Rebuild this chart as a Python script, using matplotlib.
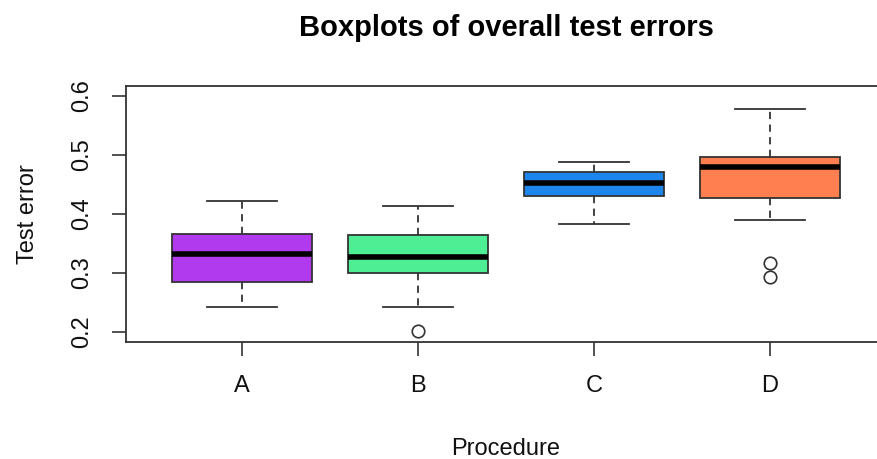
import matplotlib
matplotlib.use("Agg")
import matplotlib.pyplot as plt

# ── data ──────────────────────────────────────────────────────────────────────
procedures = ["A", "B", "C", "D"]
whisker_low = [0.242, 0.243, 0.383, 0.390]
q1 = [0.284, 0.300, 0.430, 0.427]
medians = [0.332, 0.327, 0.452, 0.480]
q3 = [0.366, 0.365, 0.472, 0.496]
whisker_high = [0.422, 0.414, 0.489, 0.578]
outliers = [[], [0.202], [], [0.317, 0.293]]
colors = ["#B23AEE", "#4EEE94", "#1C86EE", "#FF7F50"]

plt.rcParams["font.family"] = ["Liberation Sans", "DejaVu Sans"]

fig = plt.figure(figsize=(8.77, 4.59), dpi=100)
ax = fig.add_axes([126 / 877, 1 - 342 / 459, 760 / 877, 256 / 459])

stats = []
for i, name in enumerate(procedures):
    stats.append({
        "label": name,
        "whislo": whisker_low[i],
        "q1": q1[i],
        "med": medians[i],
        "q3": q3[i],
        "whishi": whisker_high[i],
        "fliers": outliers[i],
    })

bp = ax.bxp(
    stats,
    positions=range(1, len(procedures) + 1),
    widths=0.8,
    patch_artist=True,
    showfliers=True,
    boxprops=dict(edgecolor="#333333", linewidth=1.3),
    medianprops=dict(color="black", linewidth=4, solid_capstyle="butt"),
    whiskerprops=dict(color="#333333", linewidth=1.3, linestyle=(0, (4, 3))),
    capprops=dict(color="#333333", linewidth=1.3),
    capwidths=0.4,
    flierprops=dict(marker="o", markersize=9, markerfacecolor="none",
                    markeredgecolor="#333333", markeredgewidth=1.2),
)
for patch, c in zip(bp["boxes"], colors):
    patch.set_facecolor(c)

ax.set_xlim(0.34, 4.66)
ax.set_ylim(0.183, 0.617)
ax.set_yticks([0.2, 0.3, 0.4, 0.5, 0.6])
ax.set_yticklabels(["0.2", "0.3", "0.4", "0.5", "0.6"], rotation=90, va="center")
ax.set_xticks(range(1, 5))
ax.set_xticklabels(procedures)

for s in ax.spines.values():
    s.set_color("#333333")
    s.set_linewidth(1.3)
ax.tick_params(axis="both", length=10, width=1.2, color="#333333",
               labelsize=17, labelcolor="#111111")
ax.tick_params(axis="y", pad=14)
ax.tick_params(axis="x", pad=14)

ax.set_xlabel("Procedure", fontsize=17, labelpad=29, color="#111111")
ax.set_ylabel("Test error", fontsize=17, labelpad=23, color="#111111")
fig.text(506 / 877, 1 - 28 / 459, "Boxplots of overall test errors",
         ha="center", va="center", fontsize=21, fontweight="bold")

fig.savefig("out.png", dpi=100)
